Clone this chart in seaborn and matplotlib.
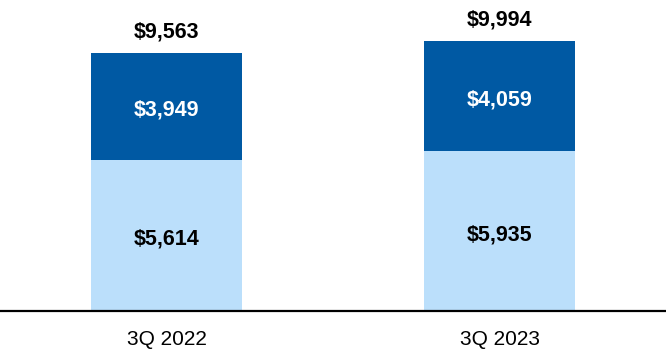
import matplotlib
matplotlib.use("Agg")
import matplotlib.pyplot as plt
import seaborn as sns
import pandas as pd

categories = ["3Q 2022", "3Q 2023"]
bottom_vals = [5614, 5935]
top_vals = [3949, 4059]
total_vals = [9563, 9994]

sns.set_style("white")
plt.rcParams['font.family'] = ['Liberation Sans', 'DejaVu Sans']

df = pd.DataFrame({"cat": categories, "bottom": bottom_vals, "top": top_vals,
                   "total": [b + t for b, t in zip(bottom_vals, top_vals)]})

fig = plt.figure(figsize=(6.66, 3.6), dpi=100)
ax = fig.add_axes([0, 49/360, 1, 311/360])

dark = "#0059A3"
light = "#BBDFFB"
w = 0.451
sns.barplot(data=df, x="cat", y="total", color=dark, width=w, ax=ax,
            saturation=1, linewidth=0)
sns.barplot(data=df, x="cat", y="bottom", color=light, width=w, ax=ax,
            saturation=1, linewidth=0)

ax.set_xlim(-0.5, 1.5)
ax.set_ylim(0, 11527)
for i in range(len(categories)):
    b = bottom_vals[i]
    t = top_vals[i]
    ax.text(i, b / 2 - 140, f"${b:,}", ha="center", va="center", fontsize=15.5,
            fontweight="bold", color="black")
    ax.text(i, b + t / 2 - 140, f"${t:,}", ha="center", va="center", fontsize=15.5,
            fontweight="bold", color="white")
    ax.text(i, total_vals[i] + 780, f"${total_vals[i]:,}", ha="center",
            va="center", fontsize=15.5, fontweight="bold", color="black")

for s in ["top", "left", "right"]:
    ax.spines[s].set_visible(False)
ax.spines["bottom"].set_color("black")
ax.spines["bottom"].set_linewidth(1.6)
ax.set_yticks([])
ax.set_xlabel("")
ax.set_ylabel("")
ax.tick_params(axis="x", length=0, pad=13.5, labelsize=15, labelcolor="black")

fig.savefig("out.png", dpi=100)
